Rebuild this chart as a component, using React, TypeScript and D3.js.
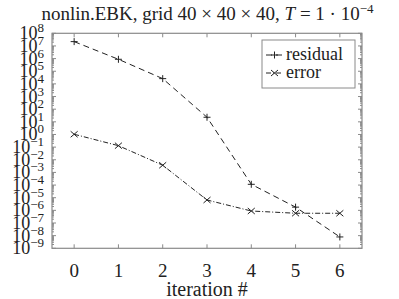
import React from 'react';
import * as d3 from 'd3';

// iteration number on x, norms on a log y axis
const iterations = [0, 1, 2, 3, 4, 5, 6];
const residual = [2.2e7, 8.8e5, 2.6e4, 23, 1.15e-4, 1.8e-6, 7.9e-9];
const error = [1.04, 0.13, 3.7e-3, 6.6e-6, 8.9e-7, 5.9e-7, 5.9e-7];
const yExponents = [8, 7, 6, 5, 4, 3, 2, 1, 0, -1, -2, -3, -4, -5, -6, -7, -8, -9];
const seriesNames = ['residual', 'error'];

const W = 399;
const H = 299;
const left = 52, right = 362, top = 33.3, bottom = 248.3;
const serif = { fontFamily: "'Liberation Serif'" };
const ink = '#222';
const frame = '#8a8a8a';

const App = () => {
    let x = d3.scaleLinear().domain([-0.5, 6.5]).range([left, right]);
    let y = d3.scaleLog().domain([1e-9, 1e8]).range([bottom, top]);

    let line = d3.line<number>()
        .x((d, i) => x(iterations[i]))
        .y((d) => y(d));

    // minor ticks at 2..9 in every decade
    let minors: number[] = [];
    yExponents.slice(1).forEach((e) => {
        for (let k = 2; k <= 9; k++) minors.push(k * Math.pow(10, e));
    });

    const plus = (cx: number, cy: number, key: string) => (
        <path key={key} d={`M${cx - 3.5},${cy}H${cx + 3.5}M${cx},${cy - 3.5}V${cy + 3.5}`}
            stroke={ink} strokeWidth={1} fill="none" />
    );
    const cross = (cx: number, cy: number, key: string) => (
        <path key={key} d={`M${cx - 3.5},${cy - 3}L${cx + 3.5},${cy + 3}M${cx - 3.5},${cy + 3}L${cx + 3.5},${cy - 3}`}
            stroke={ink} strokeWidth={1} fill="none" />
    );

    return (
        <svg width={W} height={H} style={{ position: 'absolute', left: 0, top: 0, background: '#fff' }}>
            {/* title */}
            <text x={207.5} y={20} textAnchor="middle" fontSize={19} fill={ink} style={serif}>
                nonlin.EBK, grid 40 × 40 × 40, <tspan fontStyle="italic">T</tspan> = 1 · 10
                <tspan dy={-7} fontSize={13}>−4</tspan>
            </text>

            {/* frame */}
            <rect x={left} y={top} width={right - left} height={bottom - top}
                fill="none" stroke={frame} strokeWidth={1.2} />

            {/* x ticks (bottom and top, inward) */}
            {iterations.map((d) => (
                <g key={'xt' + d}>
                    <line x1={x(d)} x2={x(d)} y1={bottom} y2={bottom - 4} stroke={frame} />
                    <line x1={x(d)} x2={x(d)} y1={top} y2={top + 4} stroke={frame} />
                    <text x={x(d)} y={276.5} textAnchor="middle" fontSize={19} fill={ink} style={serif}>{d}</text>
                </g>
            ))}
            <text x={207} y={296} textAnchor="middle" fontSize={20} fill={ink} style={serif}>iteration #</text>

            {/* y ticks */}
            {minors.map((v, i) => (
                <g key={'ym' + i}>
                    <line x1={left} x2={left + 2} y1={y(v)} y2={y(v)} stroke={frame} />
                    <line x1={right} x2={right - 2} y1={y(v)} y2={y(v)} stroke={frame} />
                </g>
            ))}
            {yExponents.map((e) => {
                let v = Math.pow(10, e);
                return (
                    <g key={'yt' + e}>
                        <line x1={left} x2={left + 4} y1={y(v)} y2={y(v)} stroke={frame} />
                        <line x1={right} x2={right - 4} y1={y(v)} y2={y(v)} stroke={frame} />
                        <text x={44} y={y(v) + 6} textAnchor="end" fontSize={18} fill={ink} style={serif}>
                            10<tspan dy={-7} fontSize={13}>{e < 0 ? '−' + -e : e}</tspan>
                        </text>
                    </g>
                );
            })}

            {/* series */}
            <path d={line(residual) || ''} fill="none" stroke={ink} strokeWidth={1} strokeDasharray="6,4" />
            <path d={line(error) || ''} fill="none" stroke={ink} strokeWidth={1} strokeDasharray="5,2,1,2" />
            {residual.map((v, i) => plus(x(iterations[i]), y(v), 'rp' + i))}
            {error.map((v, i) => cross(x(iterations[i]), y(v), 'ep' + i))}

            {/* legend */}
            <rect x={262} y={40} width={93} height={48} fill="#fff" stroke={frame} strokeWidth={1} />
            <line x1={266} x2={283} y1={55} y2={55} stroke={ink} strokeDasharray="6,4" />
            {plus(274.5, 55, 'lp')}
            <text x={286} y={60} fontSize={18} fill={ink} style={serif}>{seriesNames[0]}</text>
            <line x1={266} x2={283} y1={73} y2={73} stroke={ink} strokeDasharray="5,2,1,2" />
            {cross(274.5, 73, 'lc')}
            <text x={286} y={78} fontSize={18} fill={ink} style={serif}>{seriesNames[1]}</text>
        </svg>
    );
};

export default App;
